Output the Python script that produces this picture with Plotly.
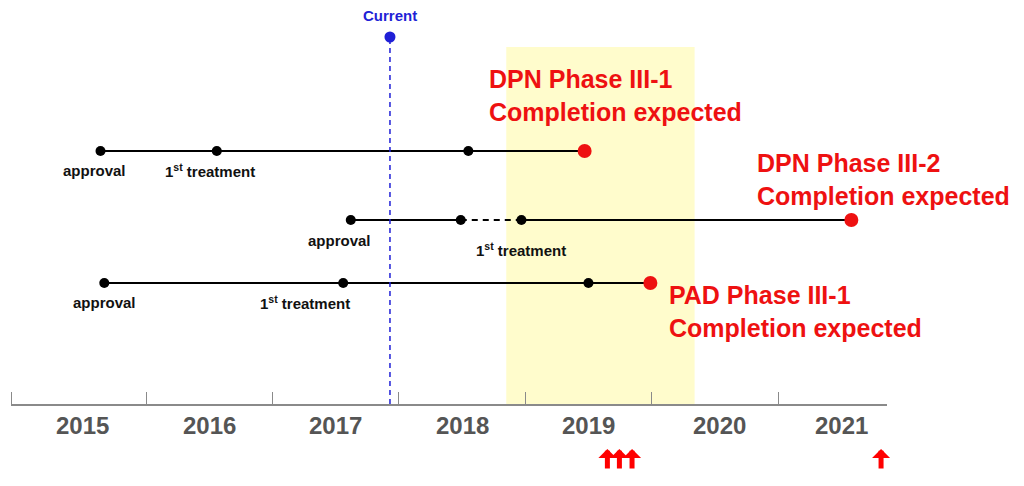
import plotly.graph_objects as go

# ---------------- data ----------------
years = [2015, 2016, 2017, 2018, 2019, 2020, 2021]
row_names = ["DPN Phase III-1", "DPN Phase III-2", "PAD Phase III-1"]
row_level = [253, 184, 121]
approval_t = [2015.64, 2017.62, 2015.67]
treatment_t = [2016.56, 2018.97, 2017.56]
interim_t = [2018.55, 2018.49, 2019.50]
completion_t = [2019.47, 2021.58, 2019.99]
current_t = 2017.93
highlight_t = [2018.85, 2020.34]
arrow_t = [2019.65, 2019.745, 2019.845, 2021.815]

# ---------------- style ----------------
FONT = "Liberation Sans, Arial, sans-serif"
RED = "#ee1111"
BLUE = "#1f1fd6"
X_RANGE = [2014.932, 2021.862]
Y_TOP = 396
AX_H = 396.0

fig = go.Figure()

# highlight band
fig.add_shape(type="rect", xref="x", yref="y", x0=highlight_t[0], x1=highlight_t[1],
              y0=0, y1=357, fillcolor="#fffccc", line=dict(width=0), layer="below")

# current marker line
fig.add_shape(type="line", xref="x", yref="y", x0=current_t, x1=current_t, y0=0, y1=367,
              line=dict(color=BLUE, width=1.5, dash="5px,4px"), layer="above")

# rows
for i, name in enumerate(row_names):
    lvl = row_level[i]
    pts = sorted([approval_t[i], treatment_t[i], interim_t[i]])
    seq = pts + [completion_t[i]]
    for a, b in zip(seq[:-1], seq[1:]):
        dashed = (a == interim_t[i] and b == treatment_t[i])
        fig.add_trace(go.Scatter(x=[a, b], y=[lvl, lvl], mode="lines",
                                 line=dict(color="black", width=2,
                                           dash="6px,5px" if dashed else "solid"),
                                 hoverinfo="skip", showlegend=False))
    fig.add_trace(go.Scatter(x=pts, y=[lvl] * 3, mode="markers",
                             marker=dict(color="black", size=10), name=name,
                             showlegend=False))
    fig.add_trace(go.Scatter(x=[completion_t[i]], y=[lvl], mode="markers",
                             marker=dict(color=RED, size=14), showlegend=False))

fig.add_trace(go.Scatter(x=[current_t], y=[367], mode="markers",
                         marker=dict(color=BLUE, size=11), showlegend=False))

ann = []
# event labels
label_font = dict(family=FONT, size=15, color="#111111", weight="bold")
approval_shift = [-6, -11, 0]
approval_yshift = [-19, -20, -19]
treat_shift = [-7, 0, -38]
treat_yshift = [-19, -29, -19]
for i in range(3):
    ann.append(dict(x=approval_t[i], y=row_level[i], xref="x", yref="y", text="approval",
                    showarrow=False, xshift=approval_shift[i], yshift=approval_yshift[i],
                    font=label_font))
    ann.append(dict(x=treatment_t[i], y=row_level[i], xref="x", yref="y",
                    text="1<sup>st</sup> treatment",
                    showarrow=False, xshift=treat_shift[i], yshift=treat_yshift[i],
                    font=label_font))

# completion texts
red_font = dict(family=FONT, size=25, color=RED, weight="bold")
text_x = [2018.695, 2020.815, 2020.12]
text_y = [309, 225, 93]
for i, name in enumerate(row_names):
    ann.append(dict(x=text_x[i], y=text_y[i], xref="x", yref="y",
                    text=name + "<br>Completion expected", align="left",
                    xanchor="left", yanchor="middle", showarrow=False, font=red_font))

# current label
ann.append(dict(x=current_t, y=389, xref="x", yref="y", text="Current", showarrow=False,
                font=dict(family=FONT, size=15, color=BLUE, weight="bold")))

# year labels (centred in each year span)
year_shift = [0, 0, 0, 0, 0, 5, 0]
for k, yv in enumerate(years):
    ann.append(dict(x=yv + 0.5, y=-21 / AX_H, xref="x", yref="paper", text=str(yv),
                    showarrow=False, xshift=year_shift[k], yanchor="middle",
                    font=dict(family=FONT, size=24, color="#555555", weight="bold")))

# red arrows below the axis
for t in arrow_t:
    ann.append(dict(x=t, y=-45 / AX_H, xref="x", yref="paper", text="", showarrow=True,
                    ax=0, ay=21, arrowhead=1, arrowsize=0.6, arrowwidth=5,
                    arrowcolor="#ff0000", standoff=0, startstandoff=0))

fig.update_layout(
    width=1016, height=478,
    margin=dict(l=3, r=137, t=0, b=82),
    plot_bgcolor="white", paper_bgcolor="white",
    annotations=ann,
    xaxis=dict(range=X_RANGE, showgrid=False, zeroline=False,
               showline=True, linecolor="#8a8a8a", linewidth=1.5,
               tickmode="array", tickvals=[y + 0.5 for y in years],
               showticklabels=False, ticks="",
               minor=dict(tickmode="array", tickvals=[X_RANGE[0] + 0.005] + years[1:],
                          ticks="inside", ticklen=12, tickcolor="#8a8a8a", tickwidth=1,
                          showgrid=False),
               fixedrange=True),
    yaxis=dict(range=[0, Y_TOP], visible=False, fixedrange=True),
)

fig.write_html("out.html")
